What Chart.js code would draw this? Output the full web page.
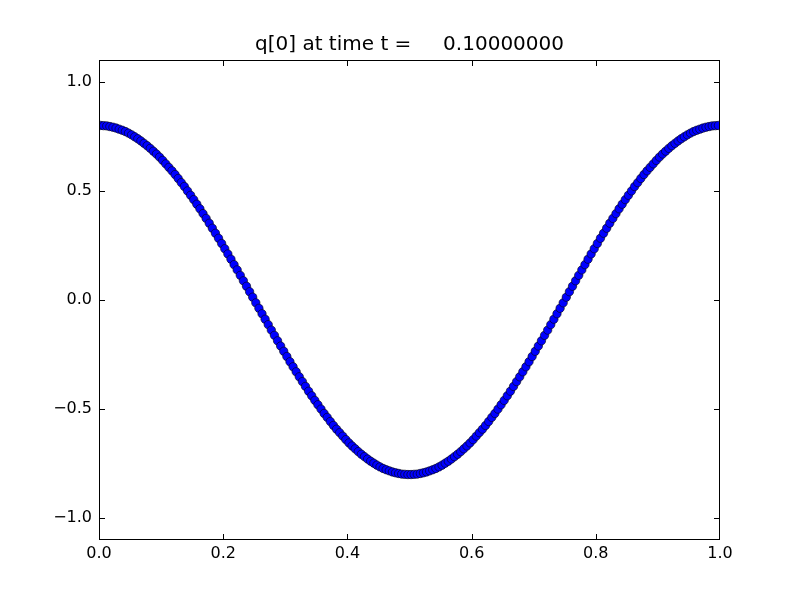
<!DOCTYPE html>
<html>
<head>
<meta charset="utf-8">
<script src="https://cdn.jsdelivr.net/npm/chart.js@4"></script>
<style>
  body { margin: 0; background: #fff; }
  canvas { display: block; }
</style>
</head>
<body>
<canvas id="myChart" width="800" height="600"></canvas>
<script>
/* data */
const titleText = "q[0] at time t =     0.10000000";
const xValues = [
  0.0025,0.0075,0.0125,0.0175,0.0225,0.0275,0.0325,0.0375,0.0425,0.0475,
  0.0525,0.0575,0.0625,0.0675,0.0725,0.0775,0.0825,0.0875,0.0925,0.0975,
  0.1025,0.1075,0.1125,0.1175,0.1225,0.1275,0.1325,0.1375,0.1425,0.1475,
  0.1525,0.1575,0.1625,0.1675,0.1725,0.1775,0.1825,0.1875,0.1925,0.1975,
  0.2025,0.2075,0.2125,0.2175,0.2225,0.2275,0.2325,0.2375,0.2425,0.2475,
  0.2525,0.2575,0.2625,0.2675,0.2725,0.2775,0.2825,0.2875,0.2925,0.2975,
  0.3025,0.3075,0.3125,0.3175,0.3225,0.3275,0.3325,0.3375,0.3425,0.3475,
  0.3525,0.3575,0.3625,0.3675,0.3725,0.3775,0.3825,0.3875,0.3925,0.3975,
  0.4025,0.4075,0.4125,0.4175,0.4225,0.4275,0.4325,0.4375,0.4425,0.4475,
  0.4525,0.4575,0.4625,0.4675,0.4725,0.4775,0.4825,0.4875,0.4925,0.4975,
  0.5025,0.5075,0.5125,0.5175,0.5225,0.5275,0.5325,0.5375,0.5425,0.5475,
  0.5525,0.5575,0.5625,0.5675,0.5725,0.5775,0.5825,0.5875,0.5925,0.5975,
  0.6025,0.6075,0.6125,0.6175,0.6225,0.6275,0.6325,0.6375,0.6425,0.6475,
  0.6525,0.6575,0.6625,0.6675,0.6725,0.6775,0.6825,0.6875,0.6925,0.6975,
  0.7025,0.7075,0.7125,0.7175,0.7225,0.7275,0.7325,0.7375,0.7425,0.7475,
  0.7525,0.7575,0.7625,0.7675,0.7725,0.7775,0.7825,0.7875,0.7925,0.7975,
  0.8025,0.8075,0.8125,0.8175,0.8225,0.8275,0.8325,0.8375,0.8425,0.8475,
  0.8525,0.8575,0.8625,0.8675,0.8725,0.8775,0.8825,0.8875,0.8925,0.8975,
  0.9025,0.9075,0.9125,0.9175,0.9225,0.9275,0.9325,0.9375,0.9425,0.9475,
  0.9525,0.9575,0.9625,0.9675,0.9725,0.9775,0.9825,0.9875,0.9925,0.9975
];
const qValues = [
  0.800,0.799,0.798,0.795,0.792,0.788,0.783,0.778,0.772,0.765,
  0.757,0.748,0.739,0.729,0.718,0.707,0.695,0.682,0.669,0.655,
  0.640,0.624,0.608,0.592,0.575,0.557,0.538,0.520,0.500,0.480,
  0.460,0.439,0.418,0.396,0.374,0.352,0.329,0.306,0.283,0.259,
  0.235,0.211,0.187,0.162,0.138,0.113,0.088,0.063,0.038,0.013,
  -0.013,-0.038,-0.063,-0.088,-0.113,-0.138,-0.162,-0.187,-0.211,-0.235,
  -0.259,-0.283,-0.306,-0.329,-0.352,-0.374,-0.396,-0.418,-0.439,-0.460,
  -0.480,-0.500,-0.520,-0.538,-0.557,-0.575,-0.592,-0.608,-0.624,-0.640,
  -0.655,-0.669,-0.682,-0.695,-0.707,-0.718,-0.729,-0.739,-0.748,-0.757,
  -0.765,-0.772,-0.778,-0.783,-0.788,-0.792,-0.795,-0.798,-0.799,-0.800,
  -0.800,-0.799,-0.798,-0.795,-0.792,-0.788,-0.783,-0.778,-0.772,-0.765,
  -0.757,-0.748,-0.739,-0.729,-0.718,-0.707,-0.695,-0.682,-0.669,-0.655,
  -0.640,-0.624,-0.608,-0.592,-0.575,-0.557,-0.538,-0.520,-0.500,-0.480,
  -0.460,-0.439,-0.418,-0.396,-0.374,-0.352,-0.329,-0.306,-0.283,-0.259,
  -0.235,-0.211,-0.187,-0.162,-0.138,-0.113,-0.088,-0.063,-0.038,-0.013,
  0.013,0.038,0.063,0.088,0.113,0.138,0.162,0.187,0.211,0.235,
  0.259,0.283,0.306,0.329,0.352,0.374,0.396,0.418,0.439,0.460,
  0.480,0.500,0.520,0.538,0.557,0.575,0.592,0.608,0.624,0.640,
  0.655,0.669,0.682,0.695,0.707,0.718,0.729,0.739,0.748,0.757,
  0.765,0.772,0.778,0.783,0.788,0.792,0.795,0.798,0.799,0.800
];
const xTicks = [0.0, 0.2, 0.4, 0.6, 0.8, 1.0];
const yTicks = [-1.0, -0.5, 0.0, 0.5, 1.0];

const FONT = "'DejaVu Sans', sans-serif";

function fmt(v) {
  return v.toFixed(1).replace('-', '\u2212');
}

/* frame and inward ticks on all four sides, matplotlib style */
const frameTicks = {
  id: 'frameTicks',
  afterDatasetsDraw(chart) {
    const { ctx, chartArea: a, scales } = chart;
    const len = 6;
    ctx.save();
    ctx.strokeStyle = '#000';
    ctx.lineWidth = 1;
    ctx.beginPath();
    xTicks.forEach((v) => {
      const px = Math.min(Math.round(scales.x.getPixelForValue(v)), a.right - 1) + 0.5;
      ctx.moveTo(px, a.bottom); ctx.lineTo(px, a.bottom - len);
      ctx.moveTo(px, a.top); ctx.lineTo(px, a.top + len);
    });
    yTicks.forEach((v) => {
      const py = Math.round(scales.y.getPixelForValue(v)) + 0.5;
      ctx.moveTo(a.left, py); ctx.lineTo(a.left + len, py);
      ctx.moveTo(a.right, py); ctx.lineTo(a.right - len, py);
    });
    ctx.stroke();
    ctx.strokeRect(a.left + 0.5, a.top + 0.5, a.right - a.left - 1, a.bottom - a.top - 1);
    ctx.restore();
  }
};

const ctx = document.getElementById('myChart');
const myChart = new Chart(ctx, {
  type: 'scatter',
  data: {
    datasets: [{
      label: 'q[0]',
      data: xValues.map((x, i) => ({ x: x, y: qValues[i] })),
      backgroundColor: '#0000ff',
      borderColor: '#000000',
      borderWidth: 0.6,
      pointRadius: 4.2,
      pointHoverRadius: 4.2,
      showLine: false,
      clip: 0
    }]
  },
  options: {
    responsive: false,
    animation: false,
    devicePixelRatio: 1,
    layout: { padding: { top: 0, right: 80, bottom: 0, left: 0 } },
    plugins: {
      legend: { display: false },
      tooltip: { enabled: false },
      title: {
        display: true,
        text: titleText,
        fullSize: false,
        color: '#000',
        font: { family: FONT, size: 20, weight: 'normal', lineHeight: 1.2 },
        padding: { top: 33, bottom: 3 }
      }
    },
    scales: {
      x: {
        type: 'linear',
        min: 0,
        max: 1,
        grid: { display: false, drawTicks: false },
        border: { display: false },
        afterBuildTicks: (scale) => { scale.ticks = xTicks.map((v) => ({ value: v })); },
        afterFit: (scale) => { scale.height = 60; },
        ticks: {
          color: '#000',
          padding: 4,
          maxRotation: 0,
          font: { family: FONT, size: 16 },
          callback: (v) => fmt(v)
        }
      },
      y: {
        type: 'linear',
        min: -1.1,
        max: 1.1,
        grid: { display: false, drawTicks: false },
        border: { display: false },
        afterBuildTicks: (scale) => { scale.ticks = yTicks.map((v) => ({ value: v })); },
        afterFit: (scale) => { scale.width = 99; },
        ticks: {
          color: '#000',
          padding: 7,
          font: { family: FONT, size: 16 },
          callback: (v) => fmt(v)
        }
      }
    }
  },
  plugins: [frameTicks]
});
myChart;
</script>
</body>
</html>
